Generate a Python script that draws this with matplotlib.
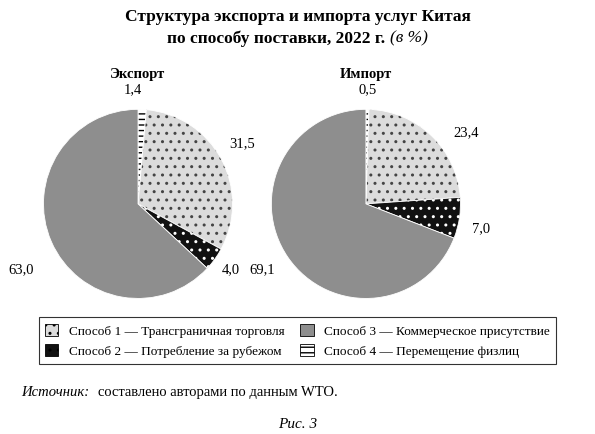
import matplotlib
matplotlib.use("Agg")
import matplotlib.pyplot as plt
from matplotlib.patches import Patch

plt.rcParams['font.family'] = ['Liberation Serif', 'DejaVu Serif']
plt.rcParams['hatch.linewidth'] = 1.0

methods = ['Способ 1 — Трансграничная торговля', 'Способ 2 — Потребление за рубежом',
           'Способ 3 — Коммерческое присутствие', 'Способ 4 — Перемещение физлиц']
export_vals = [31.5, 4.0, 63.0, 1.4]
import_vals = [23.4, 7.0, 69.1, 0.5]
export_labels = ['31,5', '4,0', '63,0', '1,4']
import_labels = ['23,4', '7,0', '69,1', '0,5']

colors = ['#dcdcdc', '#111111', '#8e8e8e', 'white']
hatches = ['..', '..', None, '---']
hatch_col = ['#444444', 'white', None, 'black']

fig = plt.figure(figsize=(5.95, 4.35), dpi=100)
fig.text(0.5, 0.952, 'Структура экспорта и импорта услуг Китая', ha='center', fontsize=12.5, weight='bold')
t1 = fig.text(0.5, 0.902, 'по способу поставки, 2022 г. ', ha='left', fontsize=12.5, weight='bold')
t2 = fig.text(0.5, 0.902, '(в %)', ha='left', fontsize=12.5, style='italic')
r = fig.canvas.get_renderer()
w1 = t1.get_window_extent(r).width / fig.bbox.width
w2 = t2.get_window_extent(r).width / fig.bbox.width
t1.set_x(0.5 - (w1 + w2) / 2)
t2.set_x(0.5 - (w1 + w2) / 2 + w1)

def draw(rect, vals, labels, title, lab_pos):
    ax = fig.add_axes(rect)
    order = [3, 0, 1, 2]  # clockwise from top
    w, _ = ax.pie([vals[i] for i in order], startangle=90, counterclock=False,
                  colors=[colors[i] for i in order],
                  wedgeprops=dict(edgecolor='white', linewidth=0.6))
    for wedge, i in zip(w, order):
        if hatches[i]:
            wedge.set_hatch(hatches[i])
            wedge._hatch_color = matplotlib.colors.to_rgba(hatch_col[i])
    for i, (x, y) in lab_pos.items():
        ax.text(x, y, labels[i], ha='center', va='center', fontsize=10.5)
    ax.text(0.0, 1.38, title, ha='center', va='center', fontsize=10.5, weight='bold')
    ax.set_xlim(-1.35, 1.35); ax.set_ylim(-1.15, 1.15)
    ax.set_aspect('equal')
    ax.axis('off')

draw([0.017, 0.279, 0.43, 0.5], export_vals, export_labels, 'Экспорт',
     {0: (1.1, 0.65), 1: (0.98, -0.69), 2: (-1.24, -0.69), 3: (-0.05, 1.22)})
draw([0.40, 0.279, 0.43, 0.5], import_vals, import_labels, 'Импорт',
     {0: (1.06, 0.76), 1: (1.22, -0.25), 2: (-1.1, -0.69), 3: (0.02, 1.22)})

handles = [Patch(facecolor=colors[i], edgecolor='black', hatch=hatches[i], linewidth=0.6) for i in range(4)]
leg = fig.legend(handles, methods, loc='center', bbox_to_anchor=(0.5, 0.215), ncol=2,
                 fontsize=9.5, frameon=True, fancybox=False, edgecolor='black',
                 handlelength=1.0, handleheight=1.0, columnspacing=1.2, borderpad=0.5)
leg.get_frame().set_linewidth(0.8)

fig.text(0.035, 0.09, 'Источник:', fontsize=10.5, style='italic')
fig.text(0.165, 0.09, 'составлено авторами по данным WTO.', fontsize=10.5)
fig.text(0.5, 0.015, 'Рис. 3', ha='center', fontsize=11, style='italic')

fig.savefig('out.png', dpi=100)
